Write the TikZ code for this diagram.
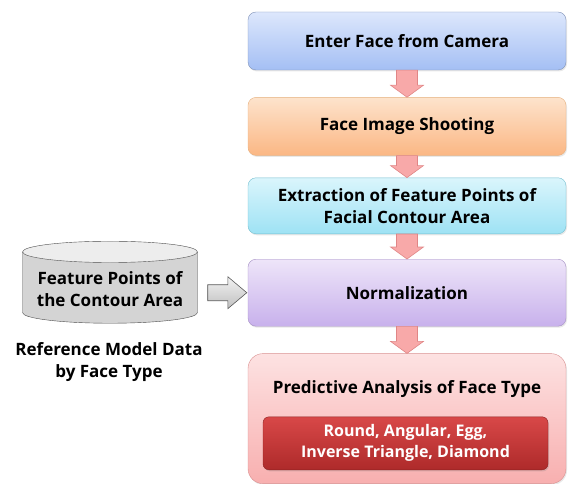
\documentclass[tikz,border=0pt]{standalone}
\usepackage{fontspec}
\setmainfont{Open Sans}
\usetikzlibrary{positioning}
\usetikzlibrary{shapes.geometric}
\usetikzlibrary{calc}
\usetikzlibrary{shadows}
\definecolor{blueedge}{HTML}{8193B8}
\definecolor{bluetop}{HTML}{DDE7FC}
\definecolor{bluebot}{HTML}{A4BFF4}
\definecolor{orangeedge}{HTML}{E6B07E}
\definecolor{orangetop}{HTML}{FDE3CC}
\definecolor{orangebot}{HTML}{FBB784}
\definecolor{cyanedge}{HTML}{74BFD0}
\definecolor{cyantop}{HTML}{DAF5FC}
\definecolor{cyanbot}{HTML}{9EE2F4}
\definecolor{purpleedge}{HTML}{A590C4}
\definecolor{purpletop}{HTML}{EEE5F9}
\definecolor{purplebot}{HTML}{C8B1EC}
\definecolor{rededge}{HTML}{D99090}
\definecolor{redtop}{HTML}{FDE2E2}
\definecolor{redbot}{HTML}{F8AFAF}
\definecolor{darkredtop}{HTML}{D84848}
\definecolor{darkredbot}{HTML}{AE2A2A}
\definecolor{arrowedge}{HTML}{E08686}
\definecolor{arrowfill}{HTML}{F8A9A9}
\def\myfont{\fontsize{17}{22}\selectfont\bfseries}
\tikzset{
semithick, % all lines semithick
my node/.style={align=center,font=\myfont,inner sep=1mm},
my stage/.style={draw,my node,rounded corners=8pt,minimum width=318pt,
  drop shadow={opacity=.18,shadow xshift=1pt,shadow yshift=-1.5pt}},
blue stage/.style={my stage,draw=blueedge,top color=bluetop,bottom color=bluebot},
orange stage/.style={my stage,draw=orangeedge,top color=orangetop,bottom color=orangebot},
cyan stage/.style={my stage,draw=cyanedge,top color=cyantop,bottom color=cyanbot},
purple stage/.style={my stage,draw=purpleedge,top color=purpletop,bottom color=purplebot},
red stage/.style={my stage,draw=rededge,top color=redtop,bottom color=redbot,rounded corners=15pt},
types box/.style={my node,draw=darkredbot!80!black,top color=darkredtop,bottom color=darkredbot,
  text=white,rounded corners=6pt,minimum width=285pt,minimum height=53pt,
  font=\fontsize{16}{21}\selectfont\bfseries,
  drop shadow={opacity=.25,shadow xshift=1pt,shadow yshift=-1.5pt}},
my db/.style={my node,draw=black!70,cylinder,shape border rotate=90,aspect=.14,
  cylinder uses custom fill,cylinder body fill=black!17,cylinder end fill=black!7,
  minimum width=175pt,minimum height=82pt},
my arrow/.style={draw=arrowedge,fill=arrowfill,line width=.6pt},
feed arrow/.style={draw=black!65,top color=black!5,bottom color=black!25,line width=.6pt},
}
% pink block arrow from one stage down to the next
\newcommand\flowstep[2]{%
  \draw[my arrow] ([xshift=-10.5pt]#1.south) -- ([xshift=-10.5pt,yshift=12pt]#2.north)
    -- ([xshift=-16.5pt,yshift=12pt]#2.north) -- (#2.north)
    -- ([xshift=16.5pt,yshift=12pt]#2.north) -- ([xshift=10.5pt,yshift=12pt]#2.north)
    -- ([xshift=10.5pt]#1.south) -- cycle;}

\begin{document}
\begin{tikzpicture}[x=1pt,y=1pt]
\useasboundingbox (0,0) rectangle (573,-484);

\node[blue stage,minimum height=58pt] (camera) at (407,-41) {Enter Face from Camera};
\node[orange stage,minimum height=58pt,below=27pt of camera] (shoot) {Face Image Shooting};
\node[cyan stage,minimum height=56pt,below=22pt of shoot] (extract)
  {Extraction of Feature Points of\\Facial Contour Area};
\node[purple stage,minimum height=67pt,below=25pt of extract] (norm) {Normalization};
\node[red stage,minimum height=130pt,below=27pt of norm] (predict) {};
\node[my node] (ptitle) at ([yshift=-36pt]predict.north) {Predictive Analysis of Face Type};
\node[types box] (types) at ([xshift=-1.5pt,yshift=40.5pt]predict.south)
  {Round, Angular, Egg,\\Inverse Triangle, Diamond};

\flowstep{camera}{shoot}
\flowstep{shoot}{extract}
\flowstep{extract}{norm}
\flowstep{norm}{predict}

% reference model data
\node[my db] (db) at (110,-289) {Feature Points of\\the Contour Area};
\node[my node] (dblabel) at (109,-362) {Reference Model Data\\by Face Type};
\coordinate (feedin) at ([xshift=10pt]db.east);
\draw[feed arrow] ($(feedin |- norm.west)+(0,8)$) -- ($(norm.west)+(-20,8)$)
  -- ($(norm.west)+(-20,16)$) -- ($(norm.west)+(-1,0)$) -- ($(norm.west)+(-20,-16)$)
  -- ($(norm.west)+(-20,-8)$) -- ($(feedin |- norm.west)+(0,-8)$) -- cycle;
\end{tikzpicture}
\end{document}
